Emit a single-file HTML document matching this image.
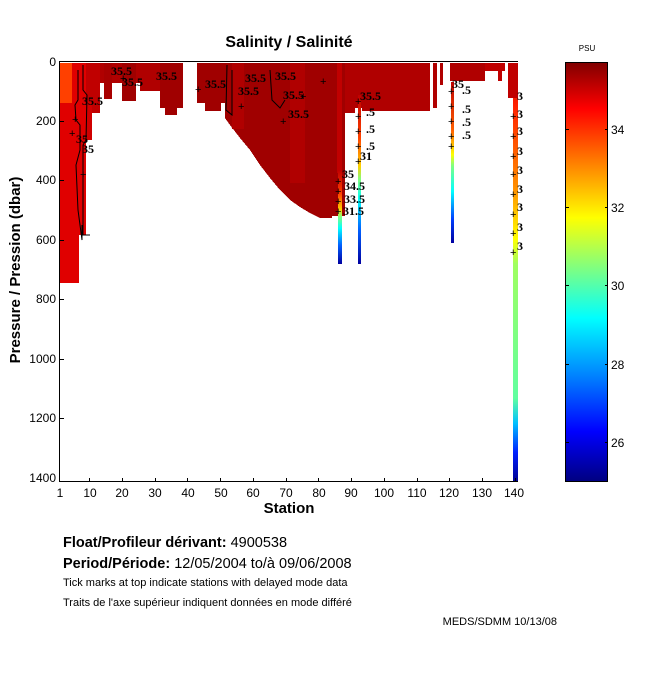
<!DOCTYPE html>
<html><head><meta charset="utf-8"><style>
body{margin:0;background:#fff;}
svg{display:block;font-family:"Liberation Sans",sans-serif;}
</style></head><body>
<svg width="650" height="680" viewBox="0 0 650 680" xmlns="http://www.w3.org/2000/svg">
<defs>
<linearGradient id="jet" x1="0" y1="0" x2="0" y2="1">
<stop offset="0" stop-color="#800000"/><stop offset="0.11" stop-color="#ff0000"/>
<stop offset="0.24" stop-color="#ff8000"/><stop offset="0.37" stop-color="#ffff00"/>
<stop offset="0.49" stop-color="#80ff80"/><stop offset="0.61" stop-color="#00ffff"/>
<stop offset="0.75" stop-color="#0080ff"/><stop offset="0.88" stop-color="#0000ff"/>
<stop offset="1" stop-color="#000080"/></linearGradient>
<linearGradient id="c86" x1="0" y1="0" x2="0" y2="1">
<stop offset="0" stop-color="#c00000"/><stop offset="0.25" stop-color="#ff4000"/>
<stop offset="0.42" stop-color="#ffd000"/><stop offset="0.5" stop-color="#80ff80"/>
<stop offset="0.62" stop-color="#00ffff"/><stop offset="0.8" stop-color="#0060ff"/>
<stop offset="1" stop-color="#0000a0"/></linearGradient>
<linearGradient id="c120" x1="0" y1="0" x2="0" y2="1">
<stop offset="0" stop-color="#c00000"/><stop offset="0.3" stop-color="#ff6000"/>
<stop offset="0.45" stop-color="#ffff00"/><stop offset="0.52" stop-color="#80ff80"/>
<stop offset="0.68" stop-color="#00ffff"/><stop offset="0.85" stop-color="#0040ff"/>
<stop offset="1" stop-color="#0000a0"/></linearGradient>
<linearGradient id="c140" x1="0" y1="0" x2="0" y2="1">
<stop offset="0" stop-color="#c00000"/><stop offset="0.1" stop-color="#ff2000"/>
<stop offset="0.3" stop-color="#ff9000"/><stop offset="0.42" stop-color="#ffff00"/>
<stop offset="0.48" stop-color="#a0ff60"/><stop offset="0.8" stop-color="#60ffa0"/>
<stop offset="0.86" stop-color="#00c0ff"/><stop offset="0.93" stop-color="#0020ff"/>
<stop offset="1" stop-color="#000090"/></linearGradient>
</defs>
<text x="289" y="47" font-size="16" font-weight="bold" text-anchor="middle">Salinity / Salinité</text>
<text x="587" y="51" font-size="8" text-anchor="middle">PSU</text>

<g shape-rendering="crispEdges">
<rect x="60" y="63" width="19" height="220" fill="#e00000"/>
<rect x="60" y="63" width="12" height="40" fill="#ff4000"/>
<rect x="79" y="63" width="7" height="172" fill="#e00000"/>
<rect x="86" y="63" width="14" height="50" fill="#c00000"/>
<rect x="86" y="100" width="6" height="40" fill="#d00000"/>
<rect x="100" y="63" width="60" height="20" fill="#b00000"/>
<rect x="104" y="63" width="8" height="36" fill="#a80000"/>
<rect x="122" y="63" width="14" height="38" fill="#a00000"/>
<rect x="140" y="63" width="20" height="28" fill="#b00000"/>
<rect x="160" y="63" width="23" height="45" fill="#a00000"/>
<rect x="165" y="63" width="12" height="52" fill="#a00000"/>
<rect x="197" y="63" width="28" height="40" fill="#a00000"/>
<rect x="205" y="63" width="16" height="48" fill="#a00000"/>
<polygon points="225,63 332,63 332,218 320,218 310,213 300,207 290,200 280,190 270,178 260,165 250,150 240,138 230,125 225,118" fill="#a00000"/>
<rect x="232" y="63" width="12" height="66" fill="#b00000"/>
<rect x="290" y="63" width="15" height="120" fill="#b00000"/>
<rect x="332" y="63" width="13" height="153" fill="#a00000"/>
<rect x="337" y="63" width="5" height="110" fill="#c00000"/>
<rect x="345" y="63" width="10" height="50" fill="#b00000"/>
<rect x="355" y="63" width="75" height="45" fill="#b00000"/>
<rect x="362" y="63" width="68" height="48" fill="#b00000"/>
<rect x="433" y="63" width="4" height="45" fill="#b00000"/>
<rect x="440" y="63" width="3" height="22" fill="#b00000"/>
<rect x="450" y="63" width="35" height="18" fill="#b00000"/>
<rect x="485" y="63" width="20" height="8" fill="#c00000"/>
<rect x="498" y="63" width="4" height="18" fill="#c00000"/>
<rect x="338" y="170" width="4" height="94" fill="url(#c86)"/>
<rect x="358" y="95" width="3" height="169" fill="url(#c86)"/>
<rect x="451" y="82" width="3" height="161" fill="url(#c120)"/>
<rect x="513" y="63" width="5" height="419" fill="url(#c140)"/>
<rect x="508" y="63" width="10" height="35" fill="#c00000"/>
</g>
<g fill="none" stroke="#000" stroke-width="1">
<path d="M78,70 L78,100 L75,105 L76,120 L80,125 L80,150 L76,165 L78,210 L82,240 L82,225"/>
<path d="M83,65 L83,90 L87,95 L86,140 L83,145 L83,235 L90,235"/>
<path d="M227,65 L226,110 L232,115 L232,70"/>
<path d="M270,70 L272,100 L280,108 L285,100"/>
</g>
<g font-size="12" fill="#000" font-family="Liberation Serif,serif" font-weight="bold">
<text x="82" y="105">35.5</text><text x="76" y="143">35</text><text x="82" y="153">35</text>
<text x="111" y="75">35.5</text><text x="122" y="86">35.5</text><text x="156" y="80">35.5</text>
<text x="205" y="88">35.5</text><text x="245" y="82">35.5</text><text x="238" y="95">35.5</text>
<text x="275" y="80">35.5</text><text x="288" y="118">35.5</text><text x="283" y="99">35.5</text>
<text x="342" y="178">35</text><text x="344" y="190">34.5</text><text x="344" y="203">33.5</text><text x="343" y="215">31.5</text>
<text x="360" y="100">35.5</text><text x="366" y="116">.5</text><text x="366" y="133">.5</text><text x="366" y="150">.5</text><text x="360" y="160">31</text>
<text x="452" y="88">35</text><text x="462" y="94">.5</text><text x="462" y="113">.5</text><text x="462" y="126">.5</text><text x="462" y="139">.5</text>
<text x="517" y="100">3</text><text x="517" y="118">3</text><text x="517" y="135">3</text><text x="517" y="155">3</text><text x="517" y="174">3</text><text x="517" y="193">3</text><text x="517" y="211">3</text><text x="517" y="231">3</text><text x="517" y="250">3</text>
</g>
<g font-size="11" fill="#000">
<text x="72" y="123">+</text><text x="80" y="178">+</text><text x="69" y="137">+</text>
<text x="120" y="82">+</text><text x="195" y="93">+</text><text x="238" y="110">+</text><text x="280" y="125">+</text><text x="320" y="85">+</text><text x="300" y="100">+</text>
<text x="335" y="185">+</text><text x="335" y="195">+</text><text x="335" y="205">+</text><text x="335" y="215">+</text>
<text x="355" y="105">+</text><text x="355" y="120">+</text><text x="355" y="135">+</text><text x="355" y="150">+</text><text x="355" y="165">+</text>
<text x="448" y="95">+</text><text x="448" y="110">+</text><text x="448" y="125">+</text><text x="448" y="140">+</text><text x="448" y="150">+</text>
<text x="510" y="120">+</text><text x="510" y="140">+</text><text x="510" y="160">+</text><text x="510" y="178">+</text><text x="510" y="198">+</text><text x="510" y="218">+</text><text x="510" y="237">+</text><text x="510" y="256">+</text>
</g>

<g stroke="#000" stroke-width="1" fill="none" shape-rendering="crispEdges">
<line x1="59.5" y1="62" x2="59.5" y2="482"/>
<line x1="59" y1="481.5" x2="518" y2="481.5"/>
<line x1="59" y1="61.5" x2="518" y2="61.5"/>
<path d="M60,121.5h4M60,180.5h4M60,240.5h4M60,299.5h4M60,359.5h4M60,418.5h4"/>
<path d="M89.5,482v-4M122.5,482v-4M155.5,482v-4M187.5,482v-4M220.5,482v-4M253.5,482v-4M286.5,482v-4M318.5,482v-4M351.5,482v-4M384.5,482v-4M417.5,482v-4M449.5,482v-4M482.5,482v-4M515.5,482v-4"/>
</g>
<g font-size="12" text-anchor="end">
<text x="56" y="66">0</text><text x="56" y="125">200</text><text x="56" y="184">400</text><text x="56" y="244">600</text><text x="56" y="303">800</text><text x="56" y="363">1000</text><text x="56" y="422">1200</text><text x="56" y="482">1400</text>
</g>
<g font-size="12" text-anchor="middle">
<text x="60" y="497">1</text><text x="90" y="497">10</text><text x="122" y="497">20</text><text x="155" y="497">30</text><text x="188" y="497">40</text><text x="221" y="497">50</text><text x="253" y="497">60</text><text x="286" y="497">70</text><text x="319" y="497">80</text><text x="351" y="497">90</text><text x="384" y="497">100</text><text x="417" y="497">110</text><text x="449" y="497">120</text><text x="482" y="497">130</text><text x="514" y="497">140</text>
</g>
<text x="289" y="513" font-size="15" font-weight="bold" text-anchor="middle">Station</text>
<text transform="translate(20,270) rotate(-90)" font-size="15" font-weight="bold" text-anchor="middle">Pressure / Pression (dbar)</text>

<rect x="565.5" y="62.5" width="42" height="419" fill="url(#jet)" stroke="#000"/>
<g stroke="#000" shape-rendering="crispEdges">
<path d="M566,129.5h3M605,129.5h3M566,207.5h3M605,207.5h3M566,285.5h3M605,285.5h3M566,364.5h3M605,364.5h3M566,442.5h3M605,442.5h3"/>
</g>
<g font-size="12"><text x="611" y="134">34</text><text x="611" y="212">32</text><text x="611" y="290">30</text><text x="611" y="369">28</text><text x="611" y="447">26</text></g>

<text x="63" y="547" font-size="14.5"><tspan font-weight="bold">Float/Profileur dérivant:</tspan> 4900538</text>
<text x="63" y="568" font-size="14.5"><tspan font-weight="bold">Period/Période:</tspan> 12/05/2004  to/à  09/06/2008</text>
<text x="63" y="586" font-size="11">Tick marks at top indicate stations with delayed mode data</text>
<text x="63" y="606" font-size="11">Traits de l'axe supérieur indiquent données en mode différé</text>
<text x="557" y="625" font-size="11" text-anchor="end">MEDS/SDMM  10/13/08</text>
</svg>
</body></html>
